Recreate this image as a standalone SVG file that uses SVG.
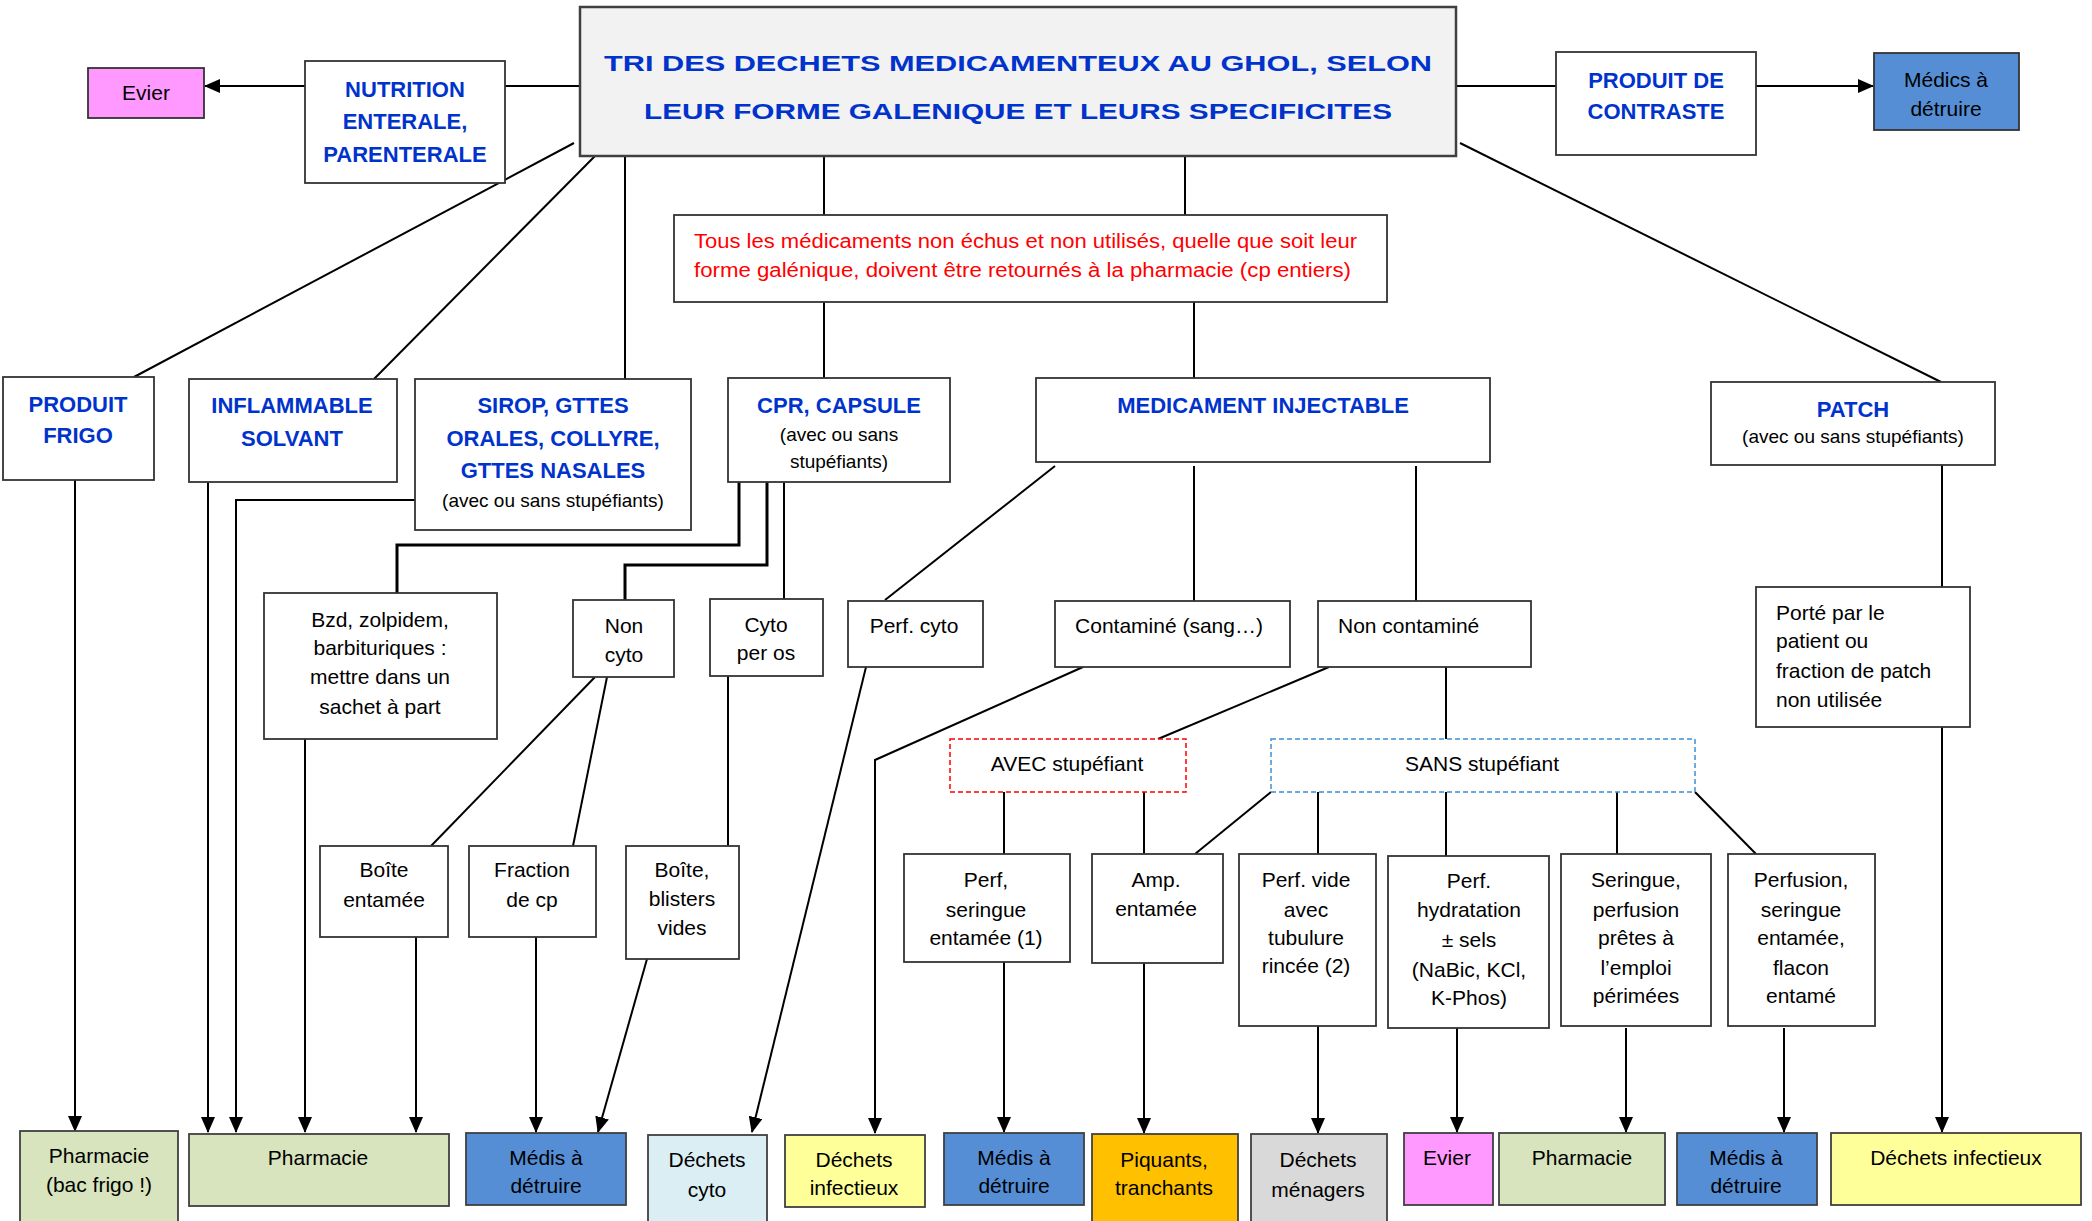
<svg xmlns="http://www.w3.org/2000/svg" width="2092" height="1221" viewBox="0 0 2092 1221">
<style>
.t{font-family:"Liberation Sans",Arial,sans-serif;font-size:21px;fill:#000;text-anchor:middle}
.l{text-anchor:start}
.b{font-weight:bold;fill:#0033cc;font-size:22px}
.s{font-size:19px}
.r{fill:#ff0000;font-size:20px;text-anchor:start}
.box{fill:#fff;stroke:#333;stroke-width:1.8}
.c{stroke:#000;stroke-width:2;fill:none}
.k{stroke-width:3}
.a{marker-end:url(#arr)}
</style>
<defs>
<marker id="arr" markerUnits="userSpaceOnUse" markerWidth="16" markerHeight="14" viewBox="0 0 16 14" refX="15" refY="7" orient="auto">
<path d="M0,0 L16,7 L0,14 Z" fill="#000"/>
</marker>
</defs>
<rect width="2092" height="1221" fill="#fff"/>

<g id="connectors">
<line class="c a" x1="305" y1="86" x2="205" y2="86"/>
<line class="c" x1="505" y1="86" x2="580" y2="86" stroke-width="2.5"/>
<line class="c" x1="1456" y1="86" x2="1556" y2="86" stroke-width="2.5"/>
<line class="c a" x1="1756" y1="86" x2="1873" y2="86"/>
<line class="c" x1="574" y1="143" x2="134" y2="377"/>
<line class="c" x1="595" y1="156" x2="374" y2="379"/>
<line class="c" x1="625" y1="156" x2="625" y2="379"/>
<line class="c" x1="824" y1="156" x2="824" y2="215"/>
<line class="c" x1="1185" y1="156" x2="1185" y2="215"/>
<line class="c" x1="824" y1="302" x2="824" y2="378"/>
<line class="c" x1="1194" y1="302" x2="1194" y2="378"/>
<line class="c" x1="1460" y1="143" x2="1941" y2="382"/>
<line class="c a" x1="75" y1="480" x2="75" y2="1131"/>
<line class="c a" x1="208" y1="482" x2="208" y2="1132"/>
<polyline class="c a" points="415,500 236,500 236,1132"/>
<polyline class="c k" points="739,482 739,545 397,545 397,593"/>
<polyline class="c k" points="767,482 767,565 625,565 625,600"/>
<line class="c" x1="784" y1="482" x2="784" y2="599" stroke-width="2.5"/>
<line class="c a" x1="305" y1="739" x2="305" y2="1132"/>
<line class="c" x1="595" y1="677" x2="431" y2="846"/>
<line class="c" x1="607" y1="677" x2="573" y2="846"/>
<line class="c a" x1="416" y1="937" x2="416" y2="1132"/>
<line class="c a" x1="536" y1="937" x2="536" y2="1132"/>
<line class="c" x1="728" y1="676" x2="728" y2="846"/>
<line class="c a" x1="647" y1="959" x2="598" y2="1132"/>
<line class="c" x1="1055" y1="466" x2="885" y2="600"/>
<line class="c" x1="1194" y1="466" x2="1194" y2="601"/>
<line class="c" x1="1416" y1="466" x2="1416" y2="601" stroke-width="2.6"/>
<line class="c a" x1="866" y1="667" x2="752" y2="1132"/>
<polyline class="c a" points="1083,667 875,760 875,1133"/>
<line class="c" x1="1329" y1="667" x2="1158" y2="739"/>
<line class="c" x1="1446" y1="667" x2="1446" y2="739"/>
<line class="c" x1="1004" y1="792" x2="1004" y2="854"/>
<line class="c" x1="1144" y1="792" x2="1144" y2="854"/>
<line class="c" x1="1271" y1="792" x2="1195" y2="854"/>
<line class="c" x1="1318" y1="792" x2="1318" y2="854"/>
<line class="c" x1="1446" y1="792" x2="1446" y2="856"/>
<line class="c" x1="1617" y1="792" x2="1617" y2="854"/>
<line class="c" x1="1695" y1="792" x2="1756" y2="854"/>
<line class="c a" x1="1004" y1="962" x2="1004" y2="1132"/>
<line class="c a" x1="1144" y1="963" x2="1144" y2="1133"/>
<line class="c a" x1="1318" y1="1026" x2="1318" y2="1133"/>
<line class="c a" x1="1457" y1="1028" x2="1457" y2="1132"/>
<line class="c a" x1="1626" y1="1028" x2="1626" y2="1132"/>
<line class="c a" x1="1784" y1="1028" x2="1784" y2="1132"/>
<line class="c" x1="1942" y1="465" x2="1942" y2="587"/>
<line class="c a" x1="1942" y1="727" x2="1942" y2="1132"/>
</g>

<g id="title">
<rect x="580" y="7" width="876" height="149" fill="#f2f2f2" stroke="#404040" stroke-width="2.5"/>
<text class="t b" x="1018" y="71" font-size="34" textLength="828" lengthAdjust="spacingAndGlyphs">TRI DES DECHETS MEDICAMENTEUX AU GHOL, SELON</text>
<text class="t b" x="1018" y="119" font-size="34" textLength="748" lengthAdjust="spacingAndGlyphs">LEUR FORME GALENIQUE ET LEURS SPECIFICITES</text>
</g>

<g id="evier-top">
<rect x="88" y="68" width="116" height="50" fill="#ff99ff" stroke="#333" stroke-width="1.8"/>
<text class="t" x="146" y="100" font-size="20">Evier</text>
</g>

<g id="nutrition">
<rect class="box" x="305" y="61" width="200" height="122"/>
<text class="t b" x="405" y="97">NUTRITION</text>
<text class="t b" x="405" y="129">ENTERALE,</text>
<text class="t b" x="405" y="162">PARENTERALE</text>
</g>

<g id="contraste">
<rect class="box" x="1556" y="52" width="200" height="103"/>
<text class="t b" x="1656" y="88">PRODUIT DE</text>
<text class="t b" x="1656" y="119">CONTRASTE</text>
</g>

<g id="medics-top">
<rect x="1874" y="53" width="145" height="77" fill="#558ed5" stroke="#333" stroke-width="1.8"/>
<text class="t" x="1946" y="87" font-size="20">Médics à</text>
<text class="t" x="1946" y="116" font-size="20">détruire</text>
</g>

<g id="info">
<rect class="box" x="674" y="215" width="713" height="87"/>
<text class="t r" x="694" y="248" textLength="663" lengthAdjust="spacingAndGlyphs">Tous les médicaments non échus et non utilisés, quelle que soit leur</text>
<text class="t r" x="694" y="277" textLength="657" lengthAdjust="spacingAndGlyphs">forme galénique, doivent être retournés à la pharmacie (cp entiers)</text>
</g>

<g id="frigo">
<rect class="box" x="3" y="377" width="151" height="103"/>
<text class="t b" x="78" y="412">PRODUIT</text>
<text class="t b" x="78" y="443">FRIGO</text>
</g>

<g id="inflammable">
<rect class="box" x="189" y="379" width="208" height="103"/>
<text class="t b" x="292" y="413">INFLAMMABLE</text>
<text class="t b" x="292" y="446">SOLVANT</text>
</g>

<g id="sirop">
<rect class="box" x="415" y="379" width="276" height="151"/>
<text class="t b" x="553" y="413">SIROP, GTTES</text>
<text class="t b" x="553" y="446">ORALES, COLLYRE,</text>
<text class="t b" x="553" y="478">GTTES NASALES</text>
<text class="t s" x="553" y="507">(avec ou sans stupéfiants)</text>
</g>

<g id="cpr">
<rect class="box" x="728" y="378" width="222" height="104"/>
<text class="t b" x="839" y="413">CPR, CAPSULE</text>
<text class="t s" x="839" y="441">(avec ou sans</text>
<text class="t s" x="839" y="468">stupéfiants)</text>
</g>

<g id="injectable">
<rect class="box" x="1036" y="378" width="454" height="84"/>
<text class="t b" x="1263" y="413">MEDICAMENT INJECTABLE</text>
</g>

<g id="patch">
<rect class="box" x="1711" y="382" width="284" height="83"/>
<text class="t b" x="1853" y="417">PATCH</text>
<text class="t s" x="1853" y="443">(avec ou sans stupéfiants)</text>
</g>

<g id="bzd">
<rect class="box" x="264" y="593" width="233" height="146"/>
<text class="t" x="380" y="627">Bzd, zolpidem,</text>
<text class="t" x="380" y="655">barbituriques :</text>
<text class="t" x="380" y="684">mettre dans un</text>
<text class="t" x="380" y="714">sachet à part</text>
</g>

<g id="noncyto">
<rect class="box" x="573" y="600" width="101" height="77"/>
<text class="t" x="624" y="633">Non</text>
<text class="t" x="624" y="662">cyto</text>
</g>

<g id="cytoperos">
<rect class="box" x="710" y="599" width="113" height="77"/>
<text class="t" x="766" y="632">Cyto</text>
<text class="t" x="766" y="660">per os</text>
</g>

<g id="perfcyto">
<rect class="box" x="848" y="601" width="135" height="66"/>
<text class="t" x="914" y="633">Perf. cyto</text>
</g>

<g id="contamine">
<rect class="box" x="1055" y="601" width="235" height="66"/>
<text class="t" x="1169" y="633">Contaminé (sang…)</text>
</g>

<g id="noncontamine">
<rect class="box" x="1318" y="601" width="213" height="66"/>
<text class="t l" x="1338" y="633">Non contaminé</text>
</g>

<g id="porte">
<rect class="box" x="1756" y="587" width="214" height="140"/>
<text class="t l" x="1776" y="620">Porté par le</text>
<text class="t l" x="1776" y="648">patient ou</text>
<text class="t l" x="1776" y="678">fraction de patch</text>
<text class="t l" x="1776" y="707">non utilisée</text>
</g>

<g id="avec">
<rect x="950" y="739" width="236" height="53" fill="#fff" stroke="#ff0000" stroke-width="1.5" stroke-dasharray="5,3"/>
<text class="t" x="1067" y="771" font-size="20">AVEC stupéfiant</text>
</g>

<g id="sans">
<rect x="1271" y="739" width="424" height="53" fill="#fff" stroke="#3d8fd6" stroke-width="1.5" stroke-dasharray="5,3"/>
<text class="t" x="1482" y="771" font-size="20">SANS stupéfiant</text>
</g>

<g id="boiteentamee">
<rect class="box" x="320" y="846" width="128" height="91"/>
<text class="t" x="384" y="877">Boîte</text>
<text class="t" x="384" y="907">entamée</text>
</g>

<g id="fraction">
<rect class="box" x="469" y="846" width="127" height="91"/>
<text class="t" x="532" y="877">Fraction</text>
<text class="t" x="532" y="907">de cp</text>
</g>

<g id="blisters">
<rect class="box" x="626" y="846" width="113" height="113"/>
<text class="t" x="682" y="877">Boîte,</text>
<text class="t" x="682" y="906">blisters</text>
<text class="t" x="682" y="935">vides</text>
</g>

<g id="perfseringue">
<rect class="box" x="904" y="854" width="166" height="108"/>
<text class="t" x="986" y="887">Perf,</text>
<text class="t" x="986" y="917">seringue</text>
<text class="t" x="986" y="945">entamée (1)</text>
</g>

<g id="amp">
<rect class="box" x="1092" y="854" width="131" height="109"/>
<text class="t" x="1156" y="887">Amp.</text>
<text class="t" x="1156" y="916">entamée</text>
</g>

<g id="perfvide">
<rect class="box" x="1239" y="854" width="137" height="172"/>
<text class="t" x="1306" y="887">Perf. vide</text>
<text class="t" x="1306" y="917">avec</text>
<text class="t" x="1306" y="945">tubulure</text>
<text class="t" x="1306" y="973">rincée (2)</text>
</g>

<g id="perfhydra">
<rect class="box" x="1388" y="856" width="161" height="172"/>
<text class="t" x="1469" y="888">Perf.</text>
<text class="t" x="1469" y="917">hydratation</text>
<text class="t" x="1469" y="947">± sels</text>
<text class="t" x="1469" y="977">(NaBic, KCl,</text>
<text class="t" x="1469" y="1005">K-Phos)</text>
</g>

<g id="seringue">
<rect class="box" x="1561" y="854" width="150" height="172"/>
<text class="t" x="1636" y="887">Seringue,</text>
<text class="t" x="1636" y="917">perfusion</text>
<text class="t" x="1636" y="945">prêtes à</text>
<text class="t" x="1636" y="975">l’emploi</text>
<text class="t" x="1636" y="1003">périmées</text>
</g>

<g id="perfusion">
<rect class="box" x="1728" y="854" width="147" height="172"/>
<text class="t" x="1801" y="887">Perfusion,</text>
<text class="t" x="1801" y="917">seringue</text>
<text class="t" x="1801" y="945">entamée,</text>
<text class="t" x="1801" y="975">flacon</text>
<text class="t" x="1801" y="1003">entamé</text>
</g>

<g id="out-pharmacie-frigo">
<rect x="20" y="1131" width="158" height="100" fill="#d7e4bd" stroke="#404040" stroke-width="1.8"/>
<text class="t" x="99" y="1163">Pharmacie</text>
<text class="t" x="99" y="1192">(bac frigo !)</text>
</g>

<g id="out-pharmacie">
<rect x="189" y="1134" width="260" height="72" fill="#d7e4bd" stroke="#404040" stroke-width="1.8"/>
<text class="t" x="318" y="1165">Pharmacie</text>
</g>

<g id="out-medis1">
<rect x="466" y="1133" width="160" height="72" fill="#558ed5" stroke="#404040" stroke-width="1.8"/>
<text class="t" x="546" y="1165">Médis à</text>
<text class="t" x="546" y="1193">détruire</text>
</g>

<g id="out-dechets-cyto">
<rect x="648" y="1135" width="119" height="96" fill="#daeef3" stroke="#404040" stroke-width="1.8"/>
<text class="t" x="707" y="1167">Déchets</text>
<text class="t" x="707" y="1197">cyto</text>
</g>

<g id="out-infectieux1">
<rect x="785" y="1135" width="140" height="72" fill="#ffff99" stroke="#404040" stroke-width="1.8"/>
<text class="t" x="854" y="1167">Déchets</text>
<text class="t" x="854" y="1195">infectieux</text>
</g>

<g id="out-medis2">
<rect x="944" y="1133" width="140" height="72" fill="#558ed5" stroke="#404040" stroke-width="1.8"/>
<text class="t" x="1014" y="1165">Médis à</text>
<text class="t" x="1014" y="1193">détruire</text>
</g>

<g id="out-piquants">
<rect x="1092" y="1134" width="146" height="97" fill="#ffc000" stroke="#404040" stroke-width="1.8"/>
<text class="t" x="1164" y="1167">Piquants,</text>
<text class="t" x="1164" y="1195">tranchants</text>
</g>

<g id="out-menagers">
<rect x="1251" y="1134" width="136" height="97" fill="#d9d9d9" stroke="#404040" stroke-width="1.8"/>
<text class="t" x="1318" y="1167">Déchets</text>
<text class="t" x="1318" y="1197">ménagers</text>
</g>

<g id="out-evier">
<rect x="1404" y="1133" width="89" height="72" fill="#ff99ff" stroke="#404040" stroke-width="1.8"/>
<text class="t" x="1447" y="1165">Evier</text>
</g>

<g id="out-pharmacie2">
<rect x="1499" y="1133" width="166" height="72" fill="#d7e4bd" stroke="#404040" stroke-width="1.8"/>
<text class="t" x="1582" y="1165">Pharmacie</text>
</g>

<g id="out-medis3">
<rect x="1677" y="1133" width="140" height="72" fill="#558ed5" stroke="#404040" stroke-width="1.8"/>
<text class="t" x="1746" y="1165">Médis à</text>
<text class="t" x="1746" y="1193">détruire</text>
</g>

<g id="out-infectieux2">
<rect x="1831" y="1133" width="250" height="72" fill="#ffff99" stroke="#404040" stroke-width="1.8"/>
<text class="t" x="1956" y="1165">Déchets infectieux</text>
</g>
</svg>
